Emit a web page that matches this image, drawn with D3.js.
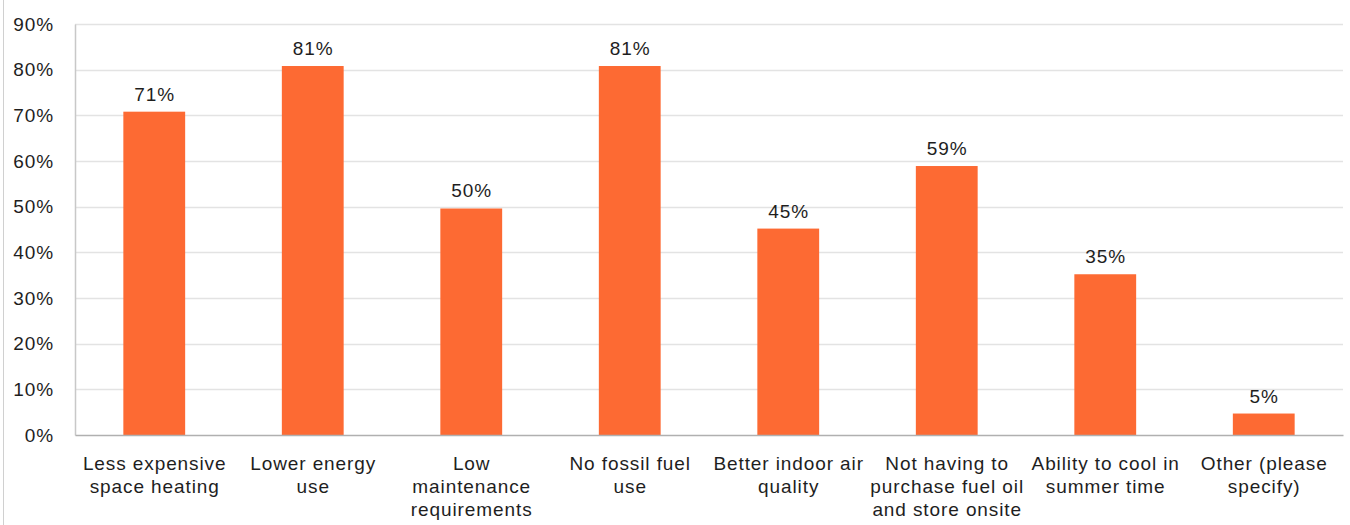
<!DOCTYPE html>
<html><head><meta charset="utf-8">
<script src="https://cdn.jsdelivr.net/npm/d3@7"></script>
<style>
html,body{margin:0;padding:0;background:#fff;}
svg{display:block;font-family:"Liberation Sans",Arial,Helvetica,sans-serif;}
</style></head>
<body><svg id="chart" width="1350" height="525"></svg>
<script>
const categories = [
  ["Less expensive","space heating"],
  ["Lower energy","use"],
  ["Low","maintenance","requirements"],
  ["No fossil fuel","use"],
  ["Better indoor air","quality"],
  ["Not having to","purchase fuel oil","and store onsite"],
  ["Ability to cool in","summer time"],
  ["Other (please","specify)"]
];
const values = [0.708, 0.808, 0.496, 0.808, 0.452, 0.589, 0.352, 0.047];
const valueLabels = ["71%","81%","50%","81%","45%","59%","35%","5%"];
const yTicks = [0,0.1,0.2,0.3,0.4,0.5,0.6,0.7,0.8,0.9];

const svg = d3.select("#chart");
const m = {left:75, right:7, top:24, bottom:90};
const W = 1350, H = 525;
const FS = 19, LS = 0.9;
const x = d3.scaleBand().domain(d3.range(categories.length)).range([m.left, W-m.right]).paddingInner(0.61).paddingOuter(0.305);
const y = d3.scaleLinear().domain([0,0.9]).range([H-m.bottom, m.top]);

// left frame line
svg.append("line").attr("x1",3.5).attr("x2",3.5).attr("y1",0).attr("y2",H).attr("stroke","#d0d0d0");

// gridlines
svg.append("g").selectAll("line").data(yTicks.slice(1)).join("line")
  .attr("x1",m.left).attr("x2",W-m.right)
  .attr("y1",d=>Math.round(y(d))+0.5).attr("y2",d=>Math.round(y(d))+0.5)
  .attr("stroke","#e3e3e3").attr("stroke-width",1.5);

// y axis
const yAxis = d3.axisLeft(y).tickValues(yTicks).tickFormat(d3.format(".0%")).tickSize(0).tickPadding(21);
const gy = svg.append("g").attr("transform",`translate(${m.left},0)`).call(yAxis);
gy.select(".domain").attr("stroke","#c8c8c8").attr("stroke-width",1.5);
gy.selectAll("text").attr("font-size",FS).attr("letter-spacing",LS).attr("fill","#1e1e1e").attr("font-family","Liberation Sans, Arial, sans-serif");

// bars
svg.append("g").selectAll("rect").data(values).join("rect")
  .attr("x",(d,i)=>x(i)).attr("width",x.bandwidth())
  .attr("y",d=>y(d)).attr("height",d=>y(0)-y(d))
  .attr("fill","#fd6a33");

// x axis
const xAxis = d3.axisBottom(x).tickSize(0).tickFormat("");
const gx = svg.append("g").attr("transform",`translate(0,${y(0)})`).call(xAxis);
gx.select(".domain").attr("stroke","#b0b0b0").attr("stroke-width",1.5);

// category labels
const cl = svg.append("g").selectAll("text").data(categories).join("text")
  .attr("x",(d,i)=>x(i)+x.bandwidth()/2+LS/2).attr("y",y(0)+35)
  .attr("text-anchor","middle").attr("font-size",FS).attr("letter-spacing",LS).attr("fill","#1e1e1e");
cl.selectAll("tspan").data(d=>d).join("tspan")
  .attr("x",function(){return this.parentNode.getAttribute("x");})
  .attr("dy",(d,i)=>i===0?0:23).text(d=>d);

// value labels
svg.append("g").selectAll("text").data(values).join("text")
  .attr("x",(d,i)=>x(i)+x.bandwidth()/2+LS/2).attr("y",d=>y(d)-11)
  .attr("text-anchor","middle").attr("font-size",FS).attr("letter-spacing",LS).attr("fill","#1e1e1e")
  .text((d,i)=>valueLabels[i]);
</script></body></html>
